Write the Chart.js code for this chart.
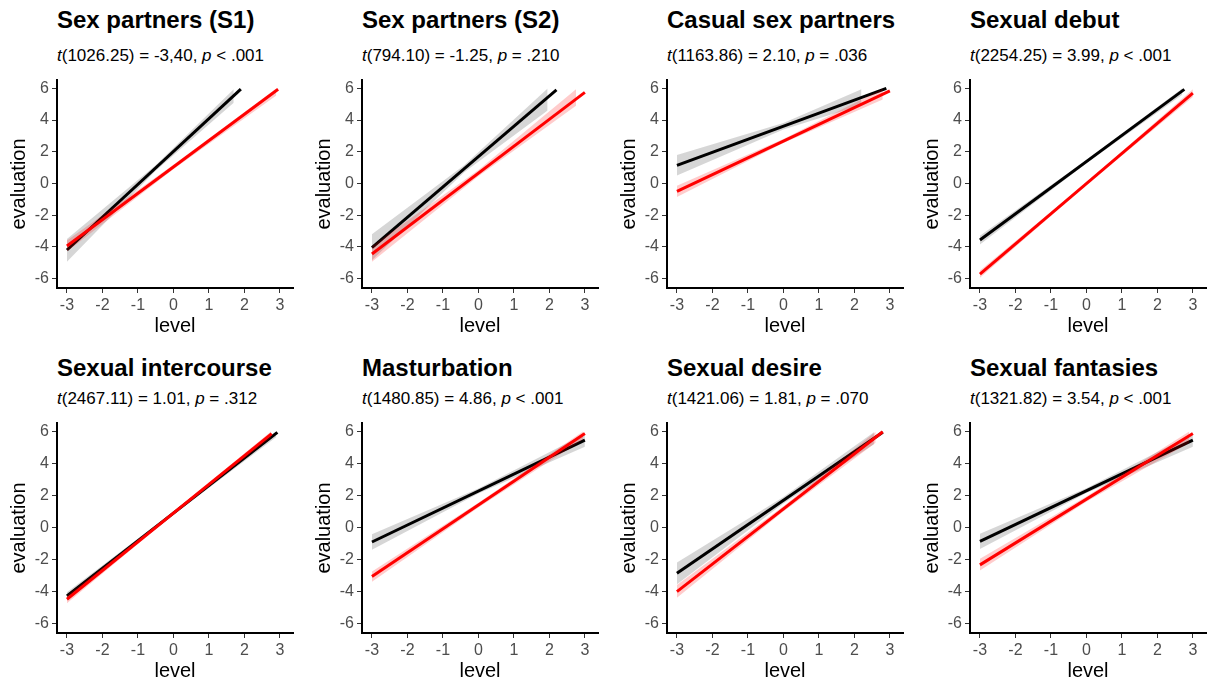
<!DOCTYPE html>
<html>
<head>
<meta charset="utf-8">
<title>Evaluation by level</title>
<script src="https://cdn.jsdelivr.net/npm/chart.js@4/dist/chart.umd.min.js"></script>
<style>
  body { margin: 0; width: 1207px; height: 681px; overflow: hidden; background: #fff; position: relative;
         font-family: 'Liberation Sans', Arial, sans-serif; }
  .title { position: absolute; font-size: 24px; font-weight: bold; line-height: 1; white-space: nowrap; color: #000; }
  .stat { position: absolute; font-size: 17px; line-height: 1; white-space: nowrap; color: #000; }
  canvas { position: absolute; }
</style>
</head>
<body>
<script>
const titles = ['Sex partners (S1)', 'Sex partners (S2)', 'Casual sex partners', 'Sexual debut',
    'Sexual intercourse', 'Masturbation', 'Sexual desire', 'Sexual fantasies'];
const statDf = ['1026.25', '794.10', '1163.86', '2254.25', '2467.11', '1480.85', '1421.06', '1321.82'];
const statT = ['-3,40', '-1.25', '2.10', '3.99', '1.01', '4.86', '1.81', '3.54'];
const statP = ['< .001', '= .210', '= .036', '< .001', '= .312', '< .001', '= .070', '< .001'];

const xTicks = [-3, -2, -1, 0, 1, 2, 3];
const yTicks = [-6, -4, -2, 0, 2, 4, 6];

// fitted lines, start and end
const blackX = [[-3, 1.9], [-3, 2.2], [-3, 2.9], [-3, 2.76], [-3, 2.93], [-3, 3], [-3, 2.8], [-3, 3]];
const blackY = [[-4.2, 5.95], [-4.05, 5.9], [1.14, 6.0], [-3.57, 5.94], [-4.28, 5.94], [-0.91, 5.46], [-2.86, 5.95], [-0.87, 5.46]];
const redX = [[-3, 2.95], [-3, 3], [-3, 3], [-3, 3], [-3, 2.77], [-3, 3], [-3, 2.8], [-3, 3]];
const redY = [[-3.95, 5.95], [-4.45, 5.75], [-0.5, 5.85], [-5.73, 5.7], [-4.49, 5.87], [-3.07, 5.87], [-4.01, 5.98], [-2.34, 5.87]];

// confidence ribbons: x, lower and upper bound
const blackBandX = [[-3, -0.5, 1.7], [-3, -0.4, 1.95], [-3, 0, 2.2], [-3, 0, 2.7], [-3, 0, 2.9], [-3, 0, 3], [-3, 0, 2.55], [-3, 0, 3]];
const blackBandLo = [[-4.95, 0.8, 5.1], [-4.85, 0.7, 4.6], [0.5, 3.4, 4.95], [-3.85, 1.28, 5.6], [-4.5, 0.8, 5.65], [-1.4, 2.12, 5.05], [-3.55, 1.5, 5.2], [-1.35, 2.15, 5.05]];
const blackBandHi = [[-3.5, 1.15, 5.95], [-3.2, 1.15, 6.0], [1.8, 3.82, 5.95], [-3.3, 1.48, 6.0], [-4.05, 0.98, 6.0], [-0.42, 2.44, 5.85], [-2.2, 1.9, 5.95], [-0.4, 2.45, 5.85]];
const redBandX = [[-3, 0, 2.9], [-3, 0, 2.75], [-3, 0, 2.8], [-3, 0, 3], [-3, 0, 2.75], [-3, 0, 2.95], [-3, 0, 2.6], [-3, 0, 2.9]];
const redBandLo = [[-4.3, 0.9, 5.55], [-4.95, 0.45, 4.9], [-0.85, 2.55, 5.3], [-5.95, -0.1, 5.45], [-4.75, 0.82, 5.6], [-3.4, 1.25, 5.5], [-4.4, 1.0, 5.3], [-2.7, 1.6, 5.3]];
const redBandHi = [[-3.6, 1.18, 6.0], [-3.95, 0.85, 5.95], [-0.15, 2.8, 5.98], [-5.5, 0.06, 5.95], [-4.25, 0.98, 6.0], [-2.75, 1.55, 6.0], [-3.6, 1.32, 5.98], [-1.95, 1.93, 6.0]];

// page layout
const colLeft = [57, 362, 667, 970];
const rowTop = [80, 423];
const rowHeight = [208, 210];
const titleTop = [8, 356];
const statTop = [47, 390];
const yAxisWidth = 57;
const xAxisHeight = 50;
const padTop = 14;
const plotWidth = 236;

Chart.defaults.font.family = "'Liberation Sans', Arial, sans-serif";

const pts = (xs, ys) => xs.map((x, k) => ({ x: x, y: ys[k] }));

function addText(cls, html, left, top) {
    const div = document.createElement('div');
    div.className = cls;
    div.innerHTML = html;
    div.style.left = left + 'px';
    div.style.top = top + 'px';
    document.body.appendChild(div);
}

function makePanel(i) {
    const col = i % 4;
    const row = Math.floor(i / 4);

    addText('title', titles[i], colLeft[col], titleTop[row]);
    addText('stat', `<i>t</i>(${statDf[i]}) = ${statT[i]}, <i>p</i> ${statP[i]}`, colLeft[col], statTop[row]);

    const canvas = document.createElement('canvas');
    const w = yAxisWidth + plotWidth + 3;
    const h = padTop + rowHeight[row] + xAxisHeight;
    canvas.width = w;
    canvas.height = h;
    canvas.style.width = w + 'px';
    canvas.style.height = h + 'px';
    canvas.style.left = (colLeft[col] - yAxisWidth) + 'px';
    canvas.style.top = (rowTop[row] - padTop) + 'px';
    document.body.appendChild(canvas);

    const none = 'rgba(0,0,0,0)';

    // eslint-disable-next-line
    new Chart(canvas.getContext('2d'), {
        type: 'line',
        data: {
            datasets: [
                { data: pts(redX[i], redY[i]), borderColor: '#ff0000', borderWidth: 3, order: 0 },
                { data: pts(redBandX[i], redBandHi[i]), borderColor: none, fill: '+1', backgroundColor: 'rgba(255,0,0,0.2)', order: 1 },
                { data: pts(redBandX[i], redBandLo[i]), borderColor: none, fill: false, order: 1 },
                { data: pts(blackX[i], blackY[i]), borderColor: '#000000', borderWidth: 3, order: 2 },
                { data: pts(blackBandX[i], blackBandHi[i]), borderColor: none, fill: '+1', backgroundColor: 'rgba(153,153,153,0.4)', order: 3 },
                { data: pts(blackBandX[i], blackBandLo[i]), borderColor: none, fill: false, order: 3 },
            ]
        },
        options: {
            responsive: false,
            animation: false,
            devicePixelRatio: 1,
            layout: { padding: { top: padTop, right: 3, bottom: 0, left: 0 } },
            elements: { point: { radius: 0 }, line: { tension: 0 } },
            plugins: { legend: { display: false }, tooltip: { enabled: false } },
            scales: {
                x: {
                    type: 'linear',
                    min: -3.28,
                    max: 3.37,
                    afterBuildTicks: (s) => { s.ticks = xTicks.map((v) => ({ value: v })); },
                    afterFit: (s) => { s.height = xAxisHeight; },
                    ticks: { color: '#4d4d4d', font: { size: 16 }, padding: 3, maxRotation: 0, autoSkip: false,
                        callback: (v) => String(v) },
                    grid: { drawOnChartArea: false, tickLength: 5, tickColor: '#333333', tickWidth: 1 },
                    border: { display: true, color: '#000000', width: 2 },
                    title: { display: true, text: 'level', color: '#000000', font: { size: 20 }, padding: 0 }
                },
                y: {
                    type: 'linear',
                    min: -6.6,
                    max: 6.53,
                    afterBuildTicks: (s) => { s.ticks = yTicks.map((v) => ({ value: v })); },
                    afterFit: (s) => { s.width = yAxisWidth; },
                    ticks: { color: '#4d4d4d', font: { size: 16 }, padding: 3, autoSkip: false,
                        callback: (v) => String(v) },
                    grid: { drawOnChartArea: false, tickLength: 5, tickColor: '#333333', tickWidth: 1 },
                    border: { display: true, color: '#000000', width: 2 },
                    title: { display: true, text: 'evaluation', color: '#000000', font: { size: 20 }, padding: { top: 7, bottom: 0 } }
                }
            }
        }
    });
}

titles.forEach((t, i) => makePanel(i));
</script>
</body>
</html>
